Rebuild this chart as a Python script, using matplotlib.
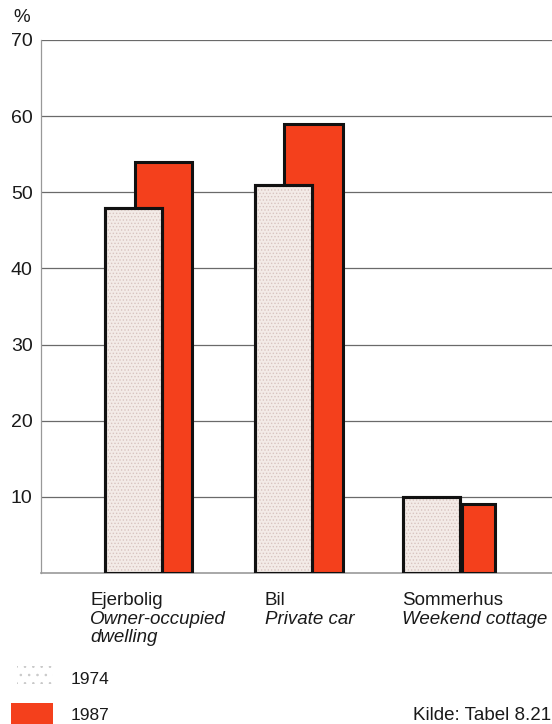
import matplotlib
matplotlib.use("Agg")
import matplotlib.pyplot as plt
import numpy as np
from matplotlib.patches import Rectangle

plt.rcParams['font.family'] = ['Liberation Sans', 'DejaVu Sans']
plt.rcParams['hatch.linewidth'] = 0.6

categories_da = ["Ejerbolig", "Bil", "Sommerhus"]
categories_en = [["Owner-occupied", "dwelling"], ["Private car"], ["Weekend cottage"]]
series_names = ["1974", "1987"]
values_1974 = [48, 51, 10]
values_1987 = [54, 59, 9]
yticks = [10, 20, 30, 40, 50, 60, 70]
source = "Kilde: Tabel 8.21"

W, H = 552, 724
fig = plt.figure(figsize=(W / 100, H / 100), dpi=100)
ax = fig.add_axes([41 / W, 1 - 573 / H, 1 - 41 / W, (573 - 40) / H])

red = '#f4401c'
light = '#f3ebe7'
txt = '#1a1a1a'
FS = 13.5

x = np.arange(len(categories_da))
# layout offsets / widths (in group units)
off74 = [-0.10, -0.10, -0.113]
off87 = [0.10, 0.10, 0.197]
w74 = [0.38, 0.38, 0.385]
w87 = [0.38, 0.39, 0.22]

ax.bar(x + np.array(off87), values_1987, width=w87, color=red,
       edgecolor='#111111', linewidth=2.2, zorder=3)
ax.bar(x + np.array(off74), values_1974, width=w74, color=light,
       edgecolor='#111111', linewidth=2.2, zorder=4)
ax.bar(x + np.array(off74), values_1974, width=w74, color='none',
       edgecolor='#d8c4c0', hatch='.....', linewidth=0, zorder=4.5)
ax.bar(x + np.array(off74), values_1974, width=w74, color='none',
       edgecolor='#111111', linewidth=2.2, zorder=5)

ax.set_xlim(-0.717, 2.69)
ax.set_ylim(0, 70)
ax.set_yticks(yticks)
ax.set_yticklabels([str(t) for t in yticks], fontsize=14, color=txt)
ax.tick_params(axis='y', length=0, pad=6)
ax.set_xticks([])
for yv in yticks:
    ax.axhline(yv, color='#6a6a6a', linewidth=0.9, zorder=1)
for s in ['top', 'right']:
    ax.spines[s].set_visible(False)
ax.spines['left'].set_color('#999999')
ax.spines['left'].set_linewidth(0.9)
ax.spines['bottom'].set_color('#999999')
ax.spines['bottom'].set_linewidth(1.2)

fig.text(13 / W, 1 - 18 / H, "%", fontsize=FS, va='center', ha='left', color=txt)

label_x = [90, 265, 402]
baselines = [605, 623.5, 642]
for i in range(len(categories_da)):
    fig.text(label_x[i] / W, 1 - baselines[0] / H, categories_da[i], fontsize=FS,
             va='baseline', ha='left', color=txt)
    for j, line in enumerate(categories_en[i]):
        fig.text(label_x[i] / W, 1 - baselines[j + 1] / H, line, fontsize=FS,
                 va='baseline', ha='left', style='italic', color=txt)

# legend
fig.patches.append(Rectangle((17 / W, 1 - 684 / H), 36 / W, 18 / H,
                             transform=fig.transFigure, facecolor='white',
                             edgecolor='#c8c8c8', hatch='..', linewidth=0))
fig.patches.append(Rectangle((11 / W, 1 - 726 / H), 42 / W, 23 / H,
                             transform=fig.transFigure, facecolor=red,
                             edgecolor='none'))
fig.text(71 / W, 1 - 680 / H, series_names[0], fontsize=12.5, va='center', ha='left', color=txt)
fig.text(71 / W, 1 - 716 / H, series_names[1], fontsize=12.5, va='center', ha='left', color=txt)
fig.text(413 / W, 1 - 715 / H, source, fontsize=FS, va='center', ha='left', color=txt)

fig.savefig("out.png", dpi=100)
